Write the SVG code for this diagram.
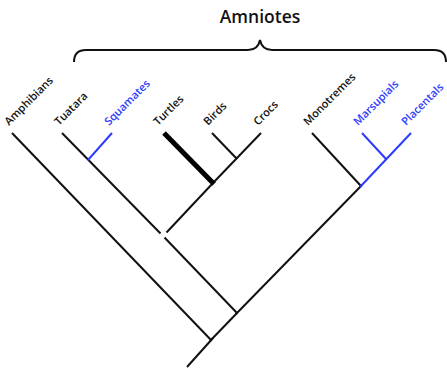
<svg xmlns="http://www.w3.org/2000/svg" width="447" height="369" viewBox="0 0 447 369">
<style>
.lbl{font-family:"Open Sans","Liberation Sans",sans-serif;font-size:11px;font-weight:600;fill:#111}
.blue{fill:#2b3cff}
.br{stroke:#111;stroke-width:2;fill:none;stroke-linecap:butt}
.bb{stroke:#2b3cff;stroke-width:2;fill:none}
.thick{stroke:#000;stroke-width:5;fill:none}
.title{font-family:"Open Sans","Liberation Sans",sans-serif;font-size:17.5px;font-weight:600;fill:#111;text-anchor:middle}
</style>
<rect width="447" height="369" fill="#fff"/>
<g id="brace">
<text class="title" x="260" y="23">Amniotes</text>
<path class="br" d="M74,62 Q74,50 86,50 L248,50 Q258,50 260,40 Q262,50 272,50 L434,50 Q446,50 446,62" stroke-width="1.6"/>
</g>
<g id="connectors">
<line class="br" x1="12" y1="133" x2="211" y2="340"/>
<line class="br" x1="213" y1="338" x2="187" y2="367"/>
<line class="br" x1="210" y1="341" x2="237" y2="313"/>
<line class="br" x1="62" y1="133" x2="160.5" y2="233.5"/>
<line class="br" x1="164.5" y1="237.5" x2="237" y2="313"/>
<line class="br" x1="213" y1="183" x2="166.5" y2="232.5"/>
<line class="br" x1="261" y1="133" x2="213" y2="183"/>
<line class="br" x1="212" y1="133" x2="237" y2="159"/>
<line class="br" x1="312" y1="133" x2="361" y2="186"/>
<line class="br" x1="362" y1="185" x2="236" y2="314"/>
<line class="thick" x1="164" y1="133" x2="214" y2="184"/>
<line class="bb" x1="112" y1="133" x2="88" y2="160"/>
<line class="bb" x1="411" y1="133" x2="360" y2="187"/>
<line class="bb" x1="362" y1="133" x2="386" y2="159"/>
</g>
<g id="amphibians"><text class="lbl" transform="translate(9,126) rotate(-45)">Amphibians</text></g>
<g id="tuatara"><text class="lbl" transform="translate(59,126) rotate(-45)">Tuatara</text></g>
<g id="squamates"><text class="lbl blue" transform="translate(109,126) rotate(-45)">Squamates</text></g>
<g id="turtles"><text class="lbl" transform="translate(158,126) rotate(-45)">Turtles</text></g>
<g id="birds"><text class="lbl" transform="translate(208,126) rotate(-45)">Birds</text></g>
<g id="crocs"><text class="lbl" transform="translate(258,126) rotate(-45)">Crocs</text></g>
<g id="monotremes"><text class="lbl" transform="translate(308,126) rotate(-45)">Monotremes</text></g>
<g id="marsupials"><text class="lbl blue" transform="translate(358,126) rotate(-45)">Marsupials</text></g>
<g id="placentals"><text class="lbl blue" transform="translate(406,126) rotate(-45)">Placentals</text></g>
</svg>
